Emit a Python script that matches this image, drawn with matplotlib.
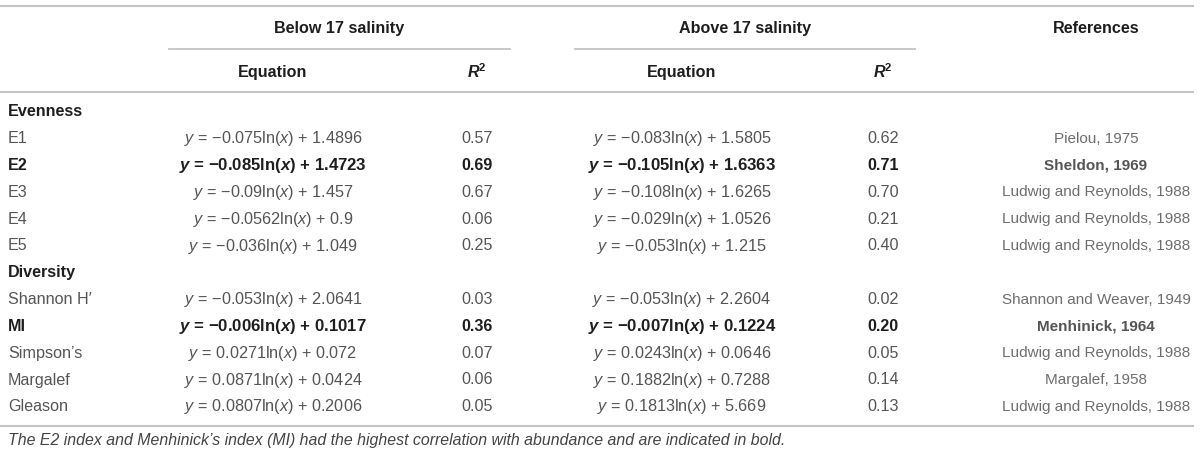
import matplotlib
matplotlib.use("Agg")
import matplotlib.pyplot as plt

plt.rcParams["font.family"] = ["Liberation Sans", "DejaVu Sans"]
plt.rcParams["mathtext.fontset"] = "custom"
plt.rcParams["mathtext.rm"] = "Liberation Sans"
plt.rcParams["mathtext.it"] = "Liberation Sans:italic"
plt.rcParams["mathtext.bf"] = "Liberation Sans:bold"
plt.rcParams["mathtext.bfit"] = "Liberation Sans:italic:bold"

# table content
groups = ["Evenness", "Diversity"]
group_rows = [
    ["E1", "E2", "E3", "E4", "E5"],
    ["Shannon H\u2032", "MI", "Simpson\u2019s", "Margalef", "Gleason"],
]
coef_below = ["\u22120.075", "\u22120.085", "\u22120.09", "\u22120.0562", "\u22120.036",
              "\u22120.053", "\u22120.006", "0.0271", "0.0871", "0.0807"]
const_below = ["1.4896", "1.4723", "1.457", "0.9", "1.049",
               "2.0641", "0.1017", "0.072", "0.0424", "0.2006"]
r2_below = ["0.57", "0.69", "0.67", "0.06", "0.25", "0.03", "0.36", "0.07", "0.06", "0.05"]
coef_above = ["\u22120.083", "\u22120.105", "\u22120.108", "\u22120.029", "\u22120.053",
              "\u22120.053", "\u22120.007", "0.0243", "0.1882", "0.1813"]
const_above = ["1.5805", "1.6363", "1.6265", "1.0526", "1.215",
               "2.2604", "0.1224", "0.0646", "0.7288", "5.669"]
r2_above = ["0.62", "0.71", "0.70", "0.21", "0.40", "0.02", "0.20", "0.05", "0.14", "0.13"]
references = ["Pielou, 1975", "Sheldon, 1969", "Ludwig and Reynolds, 1988",
              "Ludwig and Reynolds, 1988", "Ludwig and Reynolds, 1988",
              "Shannon and Weaver, 1949", "Menhinick, 1964", "Ludwig and Reynolds, 1988",
              "Margalef, 1958", "Ludwig and Reynolds, 1988"]
bold_rows = ["E2", "MI"]
footnote = ("The E2 index and Menhinick\u2019s index (MI) had the highest correlation "
            "with abundance and are indicated in bold.")

W, H = 1200, 457
fig = plt.figure(figsize=(W / 100, H / 100), dpi=100)
ax = fig.add_axes([0, 0, 1, 1])
ax.set_xlim(0, W)
ax.set_ylim(H, 0)
ax.axis("off")

fs_head = 11.6
fs_lab = 11.6
fs_eq = 11.7
fs_eqb = 12.1
fs_num = 11.6
fs_ref = 11
line_col = "#c4c4c4"
head_col = "#1e1e1e"
txt_col = "#555555"
bold_col = "#1e1e1e"
ref_col = "#6e6e6e"
ref_bold_col = "#555555"

x_label = 8
x_eq1, x_r1 = 273, 477
x_eq2, x_r2 = 682, 883
x_ref = 1096


def equation(coef, const, bold):
    v = r"$\mathbfit{%s}$" if bold else r"$\mathit{%s}$"
    return (v % "y") + " = " + coef + "ln(" + (v % "x") + ") + " + const


# rules
ax.plot([0, 1193], [6, 6], color=line_col, lw=1.5)
ax.plot([169, 510], [49, 49], color=line_col, lw=1.3)
ax.plot([575, 915], [49, 49], color=line_col, lw=1.3)
ax.plot([0, 1193], [92, 92], color=line_col, lw=1.5)
ax.plot([0, 1193], [426, 426], color=line_col, lw=1.5)

# headers
hk = dict(fontsize=fs_head, fontweight="bold", color=head_col, ha="center")
ax.text(339, 27, "Below 17 salinity", va="center_baseline", **hk)
ax.text(745, 27, "Above 17 salinity", va="center_baseline", **hk)
ax.text(x_ref, 27, "References", va="center_baseline", **hk)
ax.text(x_eq1, 72, "Equation", va="center", **hk)
ax.text(x_eq2, 72, "Equation", va="center", **hk)
ax.text(x_r1, 72, r"$\mathbfit{R}^{\mathbf{2}}$", va="center", **hk)
ax.text(x_r2, 72, r"$\mathbfit{R}^{\mathbf{2}}$", va="center", **hk)

# body
y0, dy = 112, 26.8
row = 0
i = 0
for g, names in zip(groups, group_rows):
    ax.text(x_label, y0 + row * dy, g, fontsize=fs_lab, fontweight="bold",
            color=bold_col, ha="left", va="center")
    row += 1
    for name in names:
        y = y0 + row * dy
        b = name in bold_rows
        w = "bold" if b else "normal"
        c = bold_col if b else txt_col
        fe = fs_eqb if b else fs_eq
        ax.text(x_label, y, name, fontsize=fs_lab, fontweight=w, color=c,
                ha="left", va="center")
        ax.text(x_eq1, y, equation(coef_below[i], const_below[i], b), fontsize=fe,
                fontweight=w, color=c, ha="center", va="center")
        ax.text(x_r1, y, r2_below[i], fontsize=fs_num, fontweight=w, color=c,
                ha="center", va="center")
        ax.text(x_eq2, y, equation(coef_above[i], const_above[i], b), fontsize=fe,
                fontweight=w, color=c, ha="center", va="center")
        ax.text(x_r2, y, r2_above[i], fontsize=fs_num, fontweight=w, color=c,
                ha="center", va="center")
        ax.text(x_ref, y, references[i], fontsize=fs_ref, fontweight=w,
                color=ref_bold_col if b else ref_col, ha="center", va="center")
        row += 1
        i += 1

ax.text(x_label, 441, footnote, fontsize=11.4, fontstyle="italic", color="#444444",
        ha="left", va="center")

fig.savefig("out.png", dpi=100)
